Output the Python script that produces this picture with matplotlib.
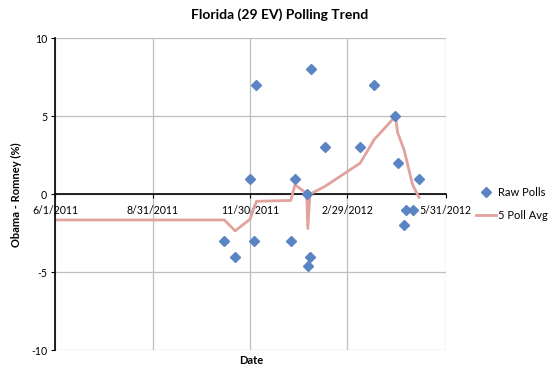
import numpy as np
import matplotlib.pyplot as plt
import matplotlib.dates as mdates

plt.rcParams['font.family'] = ['Lato', 'DejaVu Sans']

# raw polls (Obama - Romney)
poll_dates = ['2011-11-06', '2011-11-16', '2011-11-30', '2011-12-04', '2011-12-06',
              '2012-01-07', '2012-01-11', '2012-01-22', '2012-01-23', '2012-01-25',
              '2012-01-26', '2012-02-08', '2012-03-12', '2012-03-25', '2012-04-14',
              '2012-04-16', '2012-04-22', '2012-04-24', '2012-04-30', '2012-05-06']
poll_vals = [-3, -4, 1, -3, 7,
             -3, 1, 0, -4.6, -4,
             8, 3, 3, 7, 5,
             2, -2, -1, -1, 1]

# 5 poll average
avg_dates = ['2011-06-01', '2011-11-06', '2011-11-16', '2011-11-30', '2011-12-06',
             '2012-01-07', '2012-01-11', '2012-01-22', '2012-01-23', '2012-01-25',
             '2012-02-08', '2012-03-12', '2012-03-25', '2012-04-14', '2012-04-16',
             '2012-04-22', '2012-04-30', '2012-05-06']
avg_vals = [-1.65, -1.65, -2.35, -1.6, -0.45,
            -0.4, 0.6, 0.05, -2.2, 0.0,
            0.5, 2.0, 3.5, 5.0, 3.95,
            2.85, 0.6, -0.2]

tick_dates = ['2011-06-01', '2011-08-31', '2011-11-30', '2012-02-29', '2012-05-31']
tick_labels = ['6/1/2011', '8/31/2011', '11/30/2011', '2/29/2012', '5/31/2012']

pd_ = mdates.datestr2num(poll_dates)
ad_ = mdates.datestr2num(avg_dates)
td_ = mdates.datestr2num(tick_dates)

fig = plt.figure(figsize=(5.6, 3.79), dpi=100)
ax = fig.add_axes([0.099, 0.076, 0.697, 0.823])

grid_c = '#BEBEBE'
ax.plot(ad_, avg_vals, color='#E2A29D', lw=2.0, zorder=2, label='5 Poll Avg')
ax.plot(pd_, poll_vals, ls='none', marker='D', ms=5.5, color='#5B84C4',
        mec='#5B84C4', zorder=3, label='Raw Polls')

ax.set_xlim(td_[0], td_[-1])
ax.set_ylim(-10, 10)
ax.set_xticks(td_, tick_labels)
ax.set_yticks([-10, -5, 0, 5, 10], ['-10', '-5', '0', '5', '10'])

ax.grid(True, color=grid_c, lw=0.9, zorder=0)
ax.set_axisbelow(True)
for s in ['top', 'right']:
    ax.spines[s].set_visible(False)
ax.spines['bottom'].set_position(('data', 0))
ax.spines['bottom'].set_color('black')
ax.spines['left'].set_color('black')
ax.spines['left'].set_linewidth(1.2)
ax.spines['bottom'].set_linewidth(1.2)
ax.tick_params(axis='x', direction='out', length=3, pad=5, colors='black', labelsize=7.6)
ax.tick_params(axis='y', direction='out', length=3, pad=3, colors='black', labelsize=7.6)
ax.spines['bottom'].set_zorder(1)

fig.text(0.5, 0.96, 'Florida (29 EV) Polling Trend', ha='center', va='center',
         fontsize=10, fontweight='bold')
fig.text(0.448, 0.05, 'Date', ha='center', va='center', fontsize=8, fontweight='bold')
fig.text(0.03, 0.485, 'Obama - Romney (%)', ha='center', va='center', rotation=90,
         fontsize=8, fontweight='bold')

h, l = ax.get_legend_handles_labels()
fig.legend([h[1], h[0]], [l[1], l[0]], loc='center left', bbox_to_anchor=(0.84, 0.462),
           frameon=False, fontsize=8, borderpad=0, handlelength=1.8,
           handletextpad=0.15, labelspacing=1.1)

fig.savefig('out.png', dpi=100)
